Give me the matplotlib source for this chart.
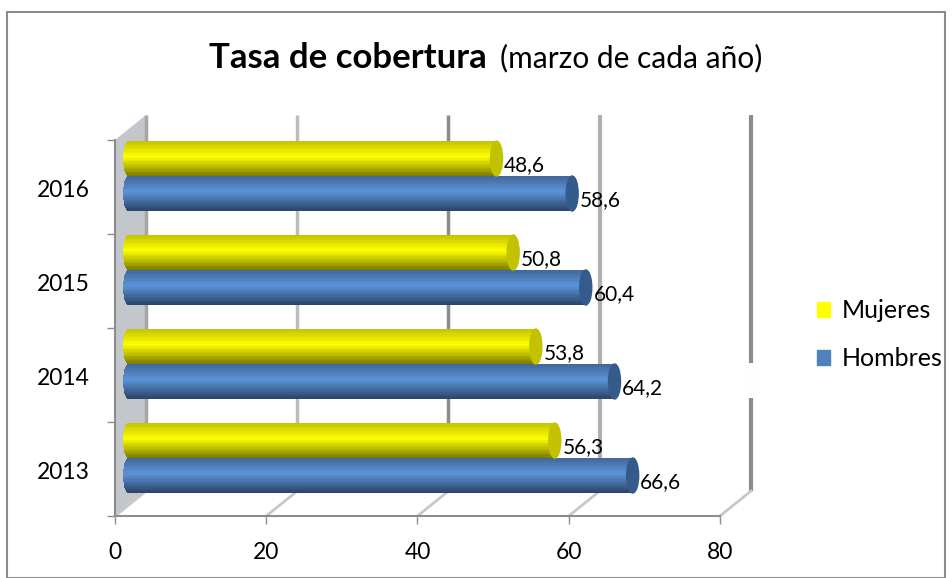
import matplotlib
matplotlib.use("Agg")
import matplotlib.pyplot as plt
import numpy as np
from matplotlib.colors import to_rgb
from matplotlib.patches import Ellipse, Patch, Polygon, Rectangle
from matplotlib.transforms import ScaledTranslation

plt.rcParams["font.family"] = ["Lato", "DejaVu Sans"]

years = ["2013", "2014", "2015", "2016"]
mujeres = [56.3, 53.8, 50.8, 48.6]
hombres = [66.6, 64.2, 60.4, 58.6]
x_ticks = [0, 20, 40, 60, 80]

W, H = 953, 578
DPI = 100
fig = plt.figure(figsize=(W / DPI, H / DPI), dpi=DPI)
ax = fig.add_axes([115 / W, 1 - 516 / H, 605 / W, 376 / H])
ax.set_xlim(0, 80)
ax.set_ylim(0, 4)


def shifted(dx, dy):
    # data coords pushed by some pixels, this fakes the 3D depth
    return ax.transData + ScaledTranslation(dx / DPI, dy / DPI, fig.dpi_scale_trans)


def band(c1, c2, c3, n):
    t = np.linspace(0, 1, n)
    stops = np.array([to_rgb(c1), to_rgb(c2), to_rgb(c3)])
    return [np.array([np.interp(v, [0, 0.45, 1], stops[:, i]) for i in range(3)]) for v in t]


def cylinder(y, h, value, c_top, c_mid, c_bot, c_cap, trans):
    n = 26
    cols = band(c_top, c_mid, c_bot, n)
    cap_w = 12 / 605 * 80
    # strips start further left near the middle, gives the rounded start of the bar
    for i, col in enumerate(cols):
        y0 = y + h / 2 - (i + 1) * h / n
        u = (i + 0.5) / n * 2 - 1
        left = -cap_w / 2 * np.sqrt(1 - u ** 2)
        ax.barh(y0, value - left, left=left, height=h / n * 1.05, align="edge", color=col, lw=0,
                transform=trans, zorder=4, clip_on=False)
    ax.add_patch(Ellipse((value, y), cap_w, h, color=c_cap, transform=trans, zorder=5, clip_on=False))


# outer frame
fig.add_artist(Rectangle((7 / W, 0), 938 / W, 1 - 12 / H, fill=False, ec="#8c8c8c", lw=1.5,
                         transform=fig.transFigure))

# side wall and back wall
back = shifted(31, 25)
ax.add_patch(Polygon([(0, 0), (0, 4), (31 / 605 * 80, 4 + 25 / 94), (31 / 605 * 80, 25 / 94)],
                     closed=True, fc="#c3c7cb", ec="none", zorder=1, clip_on=False))
grid_cols = ["#a6a6a6", "#bdbdbd", "#8c8c8c", "#b0b0b0", "#8c8c8c"]
grid_lws = [2.5, 2.5, 2.5, 3, 3]
for v, c, lw in zip(x_ticks, grid_cols, grid_lws):
    ax.plot([v, v], [0, 4], color=c, lw=lw, transform=back, zorder=2, clip_on=False,
            solid_capstyle="butt")
    # floor diagonals
    ax.plot([v, v + 31 / 605 * 80], [0, 25 / 94], color="#c8c8c8", lw=2, zorder=2, clip_on=False)
# the last grid line is broken next to 2014 in the original
ax.plot([80, 80], [0.99, 1.36], color="white", lw=4, transform=back, zorder=2.5, clip_on=False,
        solid_capstyle="butt")

# bars
bar_t = shifted(14, 11)
bar_h = 0.372
pos = np.arange(len(years)) + 0.5
for i, yr in enumerate(years):
    cylinder(pos[i] + bar_h / 2, bar_h, mujeres[i], "#c4c400", "#ffff00", "#7d7d00", "#c2c200", bar_t)
    cylinder(pos[i] - bar_h / 2, bar_h, hombres[i], "#41699a", "#5b94d8", "#2c4468", "#345b8c", bar_t)
    ax.annotate(f"{mujeres[i]:.1f}".replace(".", ","), (mujeres[i], pos[i] + bar_h / 2),
                xycoords=bar_t, xytext=(5.5, -5), textcoords="offset points",
                fontsize=15, va="center", ha="left", zorder=6, annotation_clip=False)
    ax.annotate(f"{hombres[i]:.1f}".replace(".", ","), (hombres[i], pos[i] - bar_h / 2),
                xycoords=bar_t, xytext=(5.5, -4.5), textcoords="offset points",
                fontsize=15, va="center", ha="left", zorder=6, annotation_clip=False)

# axes
for s in ("top", "right"):
    ax.spines[s].set_visible(False)
for s in ("left", "bottom"):
    ax.spines[s].set_color("#8c8c8c")
    ax.spines[s].set_linewidth(1.5)
ax.patch.set_alpha(0)
ax.set_xticks(x_ticks)
ax.set_yticks(range(5))
ax.set_yticklabels([])
ax.tick_params(axis="x", length=6, width=1, color="#8c8c8c", pad=13, labelsize=16.5)
ax.tick_params(axis="y", length=6, width=1, color="#8c8c8c")
for p, yr in zip(pos, years):
    ax.annotate(yr, (0, p), xycoords="data", xytext=(-18, -2.5), textcoords="offset points",
                fontsize=16.5, ha="right", va="center", annotation_clip=False)

# title
fig.text(487 / W, 1 - 58 / H, "Tasa de cobertura", fontsize=25, fontweight="bold",
         ha="right", va="center")
fig.text(500 / W, 1 - 58 / H, "(marzo de cada año)", fontsize=21.5, ha="left", va="center")

# legend
handles = [Patch(color="#ffff00", label="Mujeres"), Patch(color="#4f81bd", label="Hombres")]
fig.legend(handles=handles, loc="center left", bbox_to_anchor=(817 / W, 1 - 335 / H), frameon=False,
           fontsize=18, handlelength=0.52, handleheight=0.52, handletextpad=0.48, labelspacing=1.0,
           borderpad=0, borderaxespad=0)

fig.savefig("out.png", dpi=DPI)
